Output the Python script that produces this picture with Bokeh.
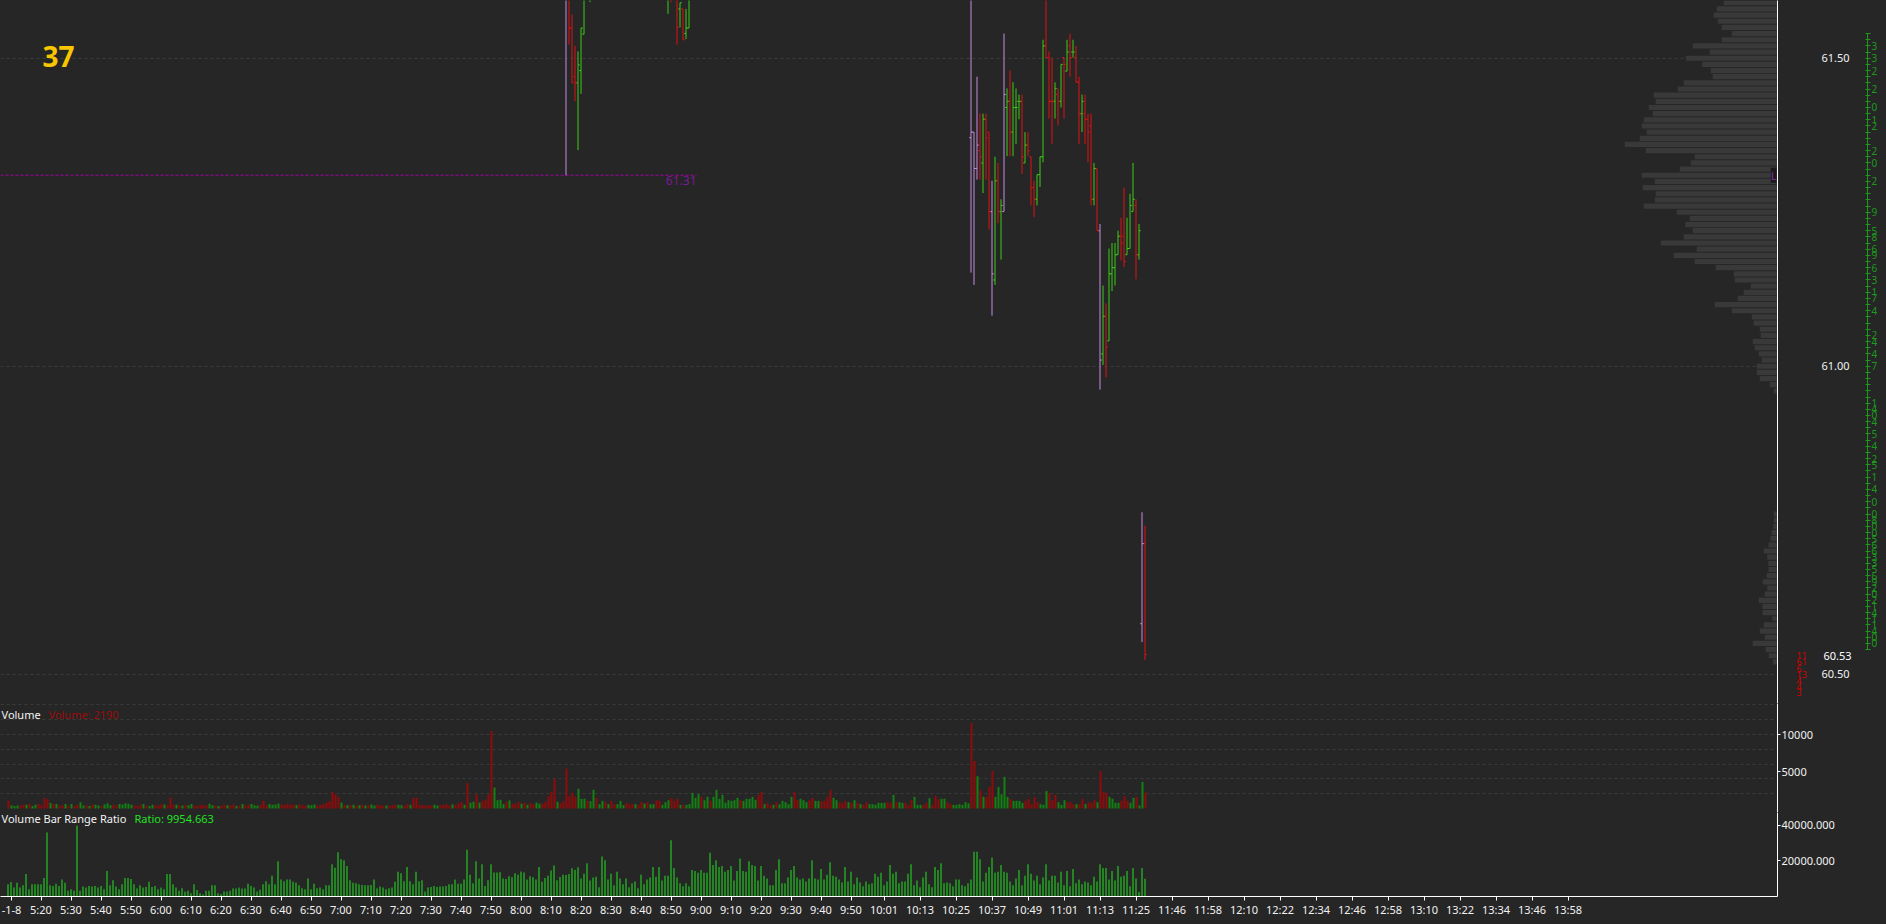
from bokeh.plotting import figure
from bokeh.models import (Range1d, FixedTicker, ColumnDataSource, Label, LinearAxis,
                          PrintfTickFormatter, GlobalInlineStyleSheet, Div)
from bokeh.layouts import column, row
from bokeh.transform import dodge
from bokeh.embed import file_html
from bokeh.resources import INLINE

# ------------------------------------------------------------------ data
# bar index = minutes after 05:00 (one-minute bars)
first_minute = 9

volume = [
    1035, 450, 350, 400, 400, 550, 500, 600, 350, 500,      # 9
    600, 450, 1440, 1260, 750, 600, 600, 400, 450, 600,     # 19
    400, 600, 350, 550, 850, 400, 450, 350, 550, 500,       # 29
    400, 350, 550, 700, 450, 500, 400, 600, 550, 700,       # 39
    650, 500, 400, 350, 500, 600, 400, 350, 500, 450,       # 49
    400, 600, 550, 450, 1440, 550, 500, 450, 400, 500,      # 59
    450, 600, 400, 350, 450, 500, 400, 650, 450, 400,       # 69
    350, 400, 500, 450, 400, 550, 350, 400, 600, 450,       # 79
    500, 600, 450, 400, 500, 1035, 450, 600, 500, 550,      # 89
    650, 550, 500, 650, 550, 500, 450, 550, 450, 400,       # 99
    500, 450, 550, 400, 500, 600, 800, 1000, 2250, 1935,    # 109
    1575, 800, 500, 450, 450, 500, 400, 450, 500, 400,      # 119
    450, 550, 400, 500, 450, 350, 400, 400, 450, 500,       # 129
    500, 450, 400, 600, 500, 1440, 1440, 500, 450, 400,     # 139
    400, 450, 500, 400, 450, 500, 600, 400, 550, 450,       # 149
    700, 900, 500, 3465, 800, 900, 1935, 800, 1000, 1200,   # 159
    1935, 10485, 2835, 1125, 1200, 600, 900, 1100, 600, 700,  # 169
    900, 650, 800, 500, 750, 600, 800, 650, 650, 900,       # 179
    1665, 2250, 4050, 900, 700, 1000, 5400, 1710, 2115, 1575,  # 189
    2655,                                                   # 199
    1305, 1305, 1035, 990, 2520, 1440, 585, 1035, 855, 585,   # 200
    1035, 585, 585, 1035, 450, 765, 585, 585, 585, 450,       # 210
    900, 675, 855, 585, 585, 1125, 1035, 495, 855, 1125,      # 220
    1395, 1035, 1305, 495, 495, 495, 585,                     # 230
    2115, 1440, 1935, 1575, 1125, 1575, 1035, 1575, 2520, 1305,  # 237
    1845, 765, 1125, 1035, 1125, 1440, 1125, 1035, 1305, 1305,   # 247
    1575, 1170, 1845, 2250, 585, 765, 450, 495, 855, 585,        # 257
    1035, 855, 585, 1575, 2250, 1125, 1305, 1125, 855, 1125,     # 267
    1440, 1035, 1035, 945, 1035, 1575, 2475, 1440, 1125, 855,    # 277
    765, 1035, 855, 765, 1125, 765, 585, 495, 855, 585,          # 287
    585, 495, 765, 765, 765, 855, 765, 1845, 855, 855,           # 297
    765, 765, 450, 1125, 1575, 495, 495, 495, 765, 1395,         # 307
    495, 1710, 1260, 1305, 1305, 855, 585, 495, 495, 585,        # 317
    495, 855, 700,                                               # 327
    11565, 6435, 4365, 2475, 1575, 1575, 2925, 5085, 1575, 2925,  # 330
    1935, 4275, 1575, 1305, 1035, 1035, 1035, 765, 1035, 1305,    # 340
    585, 1575, 855, 585, 495, 2385, 2115, 1125, 1845, 855,        # 350
    495, 1125, 855, 855, 585, 585, 585, 1305, 585, 855,           # 360
    765, 1125, 855, 5085, 2250, 2115, 1575, 1305, 765, 765,       # 370
    1035, 1710, 1035, 765, 1440, 1575, 405, 3600, 2190,           # 380
]

volume_dir = (
    "rgggrrgrgg" "rrrrgrgrrg" "rgrrggrgrg" "grgggrrggg" "ggrrrgrggr"
    "rrgrrrgrgr" "ggrrrrrggr" "grrgrrgrgr" "rgggrrrggg" "grrrrrgrrr"
    "gggrrrrrrr" "rgrgrgrgrg" "rggrrrgrrr" "ggrrgrrrrr" "rrggrrrrgr"
    "rrgrggrgrr" "rrggggrgrr" "rgrgrrggrr" "rrrgrrrrrr" "g"
    "ggrggrggrg" "rrgggrrrgr" "rgrggrrggg" "rrrgrgg"
    "gggrggrggg" "ggggggrggg" "ggrrgrrgrg" "ggggrrgggr" "rggrrrrggr"
    "rrgrgrgrrg" "gggggrrgrg" "grrrgggrrg" "rrrggrrggg" "ggg"
    "rrgrgrrrgg" "gggrggggrr" "rrrgggrrrg" "ggrrrgrrgr" "rrgrrrgggg"
    "rrrggrggr"
)

ratio = [
    6840, 8100, 5040, 7740, 5040, 6300, 12600, 4140, 6840, 6840,      # 9
    6840, 6840, 10440, 36000, 6300, 5940, 7200, 5940, 9540, 7740,     # 19
    3240, 4140, 3240, 39780, 3240, 5580, 5040, 5940, 5580, 5940,      # 29
    5040, 5940, 4140, 14400, 6300, 9180, 5580, 4140, 6840, 10440,     # 39
    10440, 9900, 6840, 4500, 6300, 5040, 5400, 8280, 5400, 5940,      # 49
    4140, 5040, 4140, 12600, 12600, 6840, 5040, 3240, 4680, 2700,     # 59
    3240, 1800, 6840, 3600, 1800, 1080, 3240, 3240, 6300, 6300,       # 69
    1800, 1440, 2880, 2880, 3240, 4500, 4500, 5040, 4500, 4500,       # 79
    7200, 5940, 5040, 2880, 3780, 6840, 8640, 6840, 11700, 6840,      # 89
    19800, 9540, 8640, 9540, 9540, 8280, 7740, 6300, 4680, 4140,      # 99
    10080, 4140, 7200, 4680, 5040, 4140, 6300, 6300, 18180, 16200,    # 109
    24840, 20880, 20340, 17100, 9180, 7740, 7380, 6840, 6480, 6300,   # 119
    6300, 6480, 9540, 4500, 5580, 5040, 4140, 4680, 5040, 8280,       # 129
    13860, 13140, 8640, 16560, 8640, 6840, 13860, 8640, 9180, 2880,   # 139
    5040, 5400, 5940, 5400, 5580, 5580, 5940, 6840, 6840, 9540,       # 149
    7200, 7200, 9540, 26280, 12240, 7380, 19800, 10080, 18180, 5940,  # 159
    9180, 18180, 13500, 13500, 13680, 10080, 9900, 11340, 10800, 13140,  # 169
    12240, 14040, 13500, 9540, 11340, 10800, 9540, 16560, 8280, 10440,   # 179
    11700, 14580, 17460, 9180, 10980, 12240, 12060, 12600, 15840, 14940, # 189
    16380,                                                               # 199
    10080, 12780, 18720, 9000, 10620, 11160, 5220, 22500, 20340, 9540,   # 200
    12780, 6300, 13860, 10080, 6840, 10080, 5220, 7380, 8460, 4680,      # 210
    12240, 6840, 9540, 10620, 16560, 11160, 16560, 9000, 11700, 11700,   # 220
    31680, 16020, 10620, 7380, 5760, 7380, 5760, 14940, 14400, 13320,    # 230
    14940, 13320, 13320, 24660, 17640, 20340, 16560, 17100, 13860, 14940,  # 240
    17100, 9000, 14400, 21420, 14400, 13860, 19800, 17640, 17100, 9000,    # 250
    17100, 11700, 10080, 6300, 6300, 14940, 20880, 7380, 7380, 10620,      # 260
    14940, 17100, 10620, 9540, 10080, 8460, 10080, 20340, 10080, 9540,     # 270
    15480, 9540, 12240, 19260, 11700, 11160, 9540, 7920, 16560, 8460,      # 280
    13860, 6840, 10620, 7920, 5760, 8460, 6840, 7380, 12780, 11160,        # 290
    13320, 6300, 8460, 17640, 12780, 13860, 7380, 8460, 8460, 12780,       # 300
    18180, 6300, 9000, 5220, 10620, 13860, 6840, 5220, 16560, 14940,       # 310
    18720, 7380, 7920, 7380, 5760, 9540, 9540, 6300, 5760, 7380,           # 320
    9540, 25200, 25200, 20880, 8460, 13320, 16560, 21960, 13320, 13860,    # 330
    17640, 13860, 13320, 8460, 6300, 10080, 14940, 6300, 11700, 18180,     # 340
    12780, 9000, 11700, 6840, 10620, 18180, 9000, 11700, 11700, 7920,      # 350
    13860, 6300, 14400, 5760, 15480, 7380, 9540, 6840, 8460, 7920,         # 360
    6300, 11160, 8460, 18180, 16020, 16020, 9540, 14400, 9000, 17100,      # 370
    11160, 11700, 14400, 5760, 16020, 10080, 2520, 16020, 9954.663,        # 380
]

# OHLC bars visible inside the price window (others lie above it)
bar_minute = [195, 196, 197, 198, 199, 200, 201, 203,
              229, 230, 232, 233, 234, 235, 236] + list(range(330, 389))
bar_open = [61.65, 61.64, 61.549, 61.470, 61.460, 61.480, 61.539, 61.62,
            61.60, 61.65, 61.64, 61.580, 61.580, 61.540, 61.549,
            61.371, 61.380, 61.321, 61.350, 61.330, 61.401, 61.380, 61.251, 61.140, 61.301,
            61.251, 61.251, 61.420, 61.430, 61.380, 61.420, 61.430, 61.430, 61.330, 61.359,
            61.340, 61.290, 61.271, 61.311, 61.340, 61.520, 61.501, 61.430, 61.430, 61.441,
            61.430, 61.501, 61.479, 61.520, 61.510, 61.501, 61.461, 61.410, 61.410, 61.401,
            61.390, 61.271, 61.321, 61.220, 61.020, 61.081, 61.041, 61.150, 61.160, 61.181,
            61.211, 61.211, 61.181, 61.191, 61.251, 61.261, 61.181, 60.582, 60.712]
bar_high = [61.70, 61.68, 61.571, 61.520, 61.511, 61.549, 61.66, 61.70,
            61.70, 61.68, 61.68, 61.590, 61.580, 61.580, 61.68,
            61.62, 61.380, 61.470, 61.410, 61.410, 61.410, 61.380, 61.301, 61.340, 61.330,
            61.271, 61.540, 61.451, 61.480, 61.461, 61.451, 61.441, 61.441, 61.380, 61.380,
            61.340, 61.301, 61.311, 61.340, 61.530, 61.62, 61.511, 61.501, 61.461, 61.451,
            61.490, 61.501, 61.530, 61.540, 61.530, 61.520, 61.470, 61.441, 61.441, 61.410,
            61.410, 61.330, 61.321, 61.231, 61.131, 61.102, 61.191, 61.200, 61.200, 61.220,
            61.241, 61.290, 61.241, 61.280, 61.330, 61.271, 61.231, 60.763, 60.741]
bar_low = [61.31, 61.522, 61.460, 61.430, 61.351, 61.442, 61.539, 61.591,
           61.572, 61.591, 61.522, 61.550, 61.530, 61.531, 61.549,
           61.152, 61.132, 61.303, 61.303, 61.281, 61.303, 61.222, 61.082, 61.132, 61.232,
           61.173, 61.251, 61.341, 61.341, 61.341, 61.361, 61.401, 61.312, 61.330, 61.341,
           61.261, 61.242, 61.261, 61.291, 61.331, 61.501, 61.402, 61.361, 61.402, 61.391,
           61.420, 61.402, 61.479, 61.470, 61.501, 61.461, 61.361, 61.380, 61.361, 61.331,
           61.261, 61.261, 61.220, 60.962, 61.002, 60.982, 61.041, 61.122, 61.131, 61.181,
           61.172, 61.161, 61.181, 61.191, 61.251, 61.141, 61.173, 60.552, 60.523]
bar_close = [61.62, 61.549, 61.460, 61.460, 61.489, 61.549, 61.62, 61.65,
             61.64, 61.61, 61.55, 61.590, 61.530, 61.549, 61.62,
             61.380, 61.321, 61.359, 61.340, 61.401, 61.371, 61.251, 61.150, 61.301, 61.251,
             61.261, 61.441, 61.430, 61.380, 61.420, 61.420, 61.430, 61.340, 61.359, 61.350,
             61.290, 61.271, 61.311, 61.340, 61.520, 61.501, 61.430, 61.430, 61.451, 61.430,
             61.490, 61.490, 61.510, 61.501, 61.510, 61.461, 61.410, 61.430, 61.401, 61.380,
             61.271, 61.321, 61.220, 61.010, 61.081, 61.031, 61.150, 61.160, 61.181, 61.211,
             61.200, 61.170, 61.191, 61.261, 61.271, 61.181, 61.220, 60.712, 60.532]
bar_kind = ("prrrgggg" "grrgrgg"
            "ppprgrrpgr" "gpgrgggrgr" "rrgggrrrgr" "grgrgrrgrr" "rgrpgrgggg" "rrgggrgpr")

level_price = 61.31          # dashed reference level
level_end_minute = 238.5
last_price = 60.53

# volume profile (price level -> contracts)
profile_top_hi = 61.59
profile_hi = [2150, 2430, 2550, 2390, 2230, 1830, 2230, 3390, 2710, 3670,
              3010, 2670, 2590, 3750, 3990, 4950, 4870, 5150, 4990, 5350,
              5430, 5230, 5510, 6110, 5270, 3310, 3470, 3910, 5430, 4910,
              5390, 4870, 4910, 5350, 4030, 3510, 3690, 3390, 3750, 4670,
              3230, 4150, 3310, 2470, 1750, 1710, 1070, 1350, 1590, 2510,
              1830, 1030, 950, 710, 670, 990, 910, 750, 630, 830,
              830, 710, 310, 150]
profile_top_lo = 60.76
profile_lo = [150, 150, 170, 240, 280, 360, 550, 410, 370, 360,
              430, 590, 410, 510, 750, 600, 600, 210, 550, 710,
              510, 990, 470, 350, 190]

# price ladder on the right edge
ladder_top, ladder_bottom = 61.54, 60.54
ladder_right = [(61.52, "3"), (61.50, "3"), (61.48, "2"), (61.45, "2"), (61.42, "0"),
                (61.40, "1"), (61.39, "2"), (61.35, "2"), (61.33, "0"), (61.30, "2"),
                (61.25, "9"), (61.22, "5"), (61.21, "8"), (61.19, "6"), (61.18, "9"),
                (61.16, "6"), (61.14, "3"), (61.12, "1"), (61.11, "7"), (61.09, "4"),
                (61.05, "2"), (61.04, "4"), (61.02, "4"), (61.00, "7"), (60.94, "1"),
                (60.93, "4"), (60.92, "0"), (60.91, "4"), (60.89, "5"), (60.87, "4"),
                (60.85, "2"), (60.84, "5"), (60.82, "1"), (60.80, "4"), (60.78, "0"),
                (60.76, "0"), (60.75, "8"), (60.74, "0"), (60.73, "0"), (60.72, "5"),
                (60.71, "6"), (60.70, "6"), (60.69, "3"), (60.68, "3"), (60.67, "5"),
                (60.66, "6"), (60.65, "9"), (60.64, "2"), (60.63, "0"), (60.62, "2"),
                (60.61, "1"), (60.60, "4"), (60.59, "1"), (60.58, "1"), (60.57, "4"),
                (60.56, "0"), (60.55, "0")]
# red sell-side counts below the last price
ladder_red = [(60.53, "11"), (60.52, "61"), (60.51, "6"), (60.50, "13"),
              (60.49, "4"), (60.48, "4"), (60.47, "3")]

price_ticks = [60.5, 61.0, 61.5]
time_labels = ["5:20", "5:30", "5:40", "5:50", "6:00", "6:10", "6:20", "6:30", "6:40",
               "6:50", "7:00", "7:10", "7:20", "7:30", "7:40", "7:50", "8:00", "8:10",
               "8:20", "8:30", "8:40", "8:50", "9:00", "9:10", "9:20", "9:30", "9:40",
               "9:50", "10:01", "10:13", "10:25", "10:37", "10:49", "11:01", "11:13", "11:25"]
future_labels = ["11:46", "11:58", "12:10", "12:22", "12:34", "12:46", "12:58",
                 "13:10", "13:22", "13:34", "13:46", "13:58"]
date_label = "-1-8"

# ------------------------------------------------------------------ styling
BG = "#262626"
FONT = "Noto Sans"
GREEN_BAR = "#3acb16"
RED_BAR = "#de1212"
LAV_BAR = "#c68ae4"
VOL_G = "#138013"
VOL_R = "#900a0a"
RATIO_C = "#22e222"
GRID_C = "#3a3a3a"
AXIS_C = "#ffffff"
LABEL_C = "#f2f2f2"
LADDER_C = "#1c9a1c"

W = 1886
FRAME_W = 1777
LADDER_W = 26          # strip on the far right that carries the ladder axis
PRICE_H = 703


def xr(px):   # reference pixel -> minute coordinate
    return (px + 19.5) / 3.0


def yp(px):   # reference pixel -> price coordinate
    return 61.5937 - px / 616.0


X_LO, X_HI = xr(0), xr(FRAME_W)
x_range = Range1d(X_LO, X_HI)


def make_fig(w, h, y_range, with_xaxis=False):
    p = figure(width=w, height=h, x_range=x_range, y_range=y_range,
               output_backend="svg", toolbar_location=None,
               y_axis_location="right",
               x_axis_location="below" if with_xaxis else None,
               min_border_left=0, min_border_right=w - FRAME_W,
               min_border_top=0, min_border_bottom=0,
               background_fill_color=BG, border_fill_color=BG,
               outline_line_color=None)
    p.xgrid.visible = False
    p.ygrid.grid_line_color = GRID_C
    p.ygrid.grid_line_dash = "3 3"
    ax = p.yaxis[0]
    ax.axis_line_color = AXIS_C
    ax.major_tick_line_color = AXIS_C
    ax.minor_tick_line_color = None
    ax.major_label_text_color = LABEL_C
    ax.major_label_text_font = FONT
    ax.major_label_text_font_size = "11px"
    return p


# ------------------------------------------------------------------ price panel
price_range = Range1d(yp(PRICE_H), yp(0))
pp = make_fig(W - LADDER_W, PRICE_H, price_range)
pp.yaxis.ticker = FixedTicker(ticks=price_ticks)
pp.ygrid.ticker = FixedTicker(ticks=price_ticks)
pp.yaxis.formatter = PrintfTickFormatter(format="%.2f")
pp.yaxis.major_tick_out = 0
pp.yaxis.major_tick_in = 0
pp.yaxis.major_label_standoff = 44
pp.yaxis.major_label_text_align = "left"

# last-price marker: a second, line-less axis whose single label is pulled back
# (negative standoff) under the price labels
last_axis = LinearAxis(ticker=FixedTicker(ticks=[last_price]),
                       formatter=PrintfTickFormatter(format="%.2f"),
                       axis_line_color=None, major_tick_line_color=None,
                       minor_tick_line_color=None, major_tick_in=0, major_tick_out=0,
                       major_label_standoff=-29, major_label_text_color="#ffffff",
                       major_label_text_align="left",
                       major_label_text_font=FONT, major_label_text_font_size="11px")
pp.add_layout(last_axis, "right")

# red counts column left of the price labels
red_levels = [a for a, b in ladder_red]
red_axis = LinearAxis(ticker=FixedTicker(ticks=red_levels),
                      major_label_overrides={a: b for a, b in ladder_red},
                      axis_line_color=None, major_tick_line_color=None,
                      minor_tick_line_color=None, major_tick_in=0, major_tick_out=0,
                      major_label_standoff=-58, major_label_text_color="#d40000",
                      major_label_text_align="right",
                      major_label_text_font=FONT, major_label_text_font_size="9px")
pp.add_layout(red_axis, "right")

# volume profile on its own horizontal scale (right edge = 0)
pp.extra_x_ranges = {"vp": Range1d(FRAME_W * 40, 0)}
hi_levels = [round(profile_top_hi - 0.01 * i, 2) for i in range(len(profile_hi))]
lo_levels = [round(profile_top_lo - 0.01 * i, 2) for i in range(len(profile_lo))]
pp.hbar(y=hi_levels + lo_levels, left=0, right=profile_hi + profile_lo,
        height=0.0084, x_range_name="vp", fill_color="#393939", line_color=None)

# dashed level line
pp.segment(x0=[X_LO - 5], y0=[level_price], x1=[level_end_minute], y1=[level_price],
           line_color="#a000a0", line_width=1, line_dash="3 2")

# OHLC bars
kind_color = {"g": GREEN_BAR, "r": RED_BAR, "p": LAV_BAR}
src = ColumnDataSource(dict(
    x=bar_minute, o=bar_open, h=bar_high, l=bar_low, c=bar_close,
    xo=[m - 0.6 for m in bar_minute], xc=[m + 0.6 for m in bar_minute],
    color=[kind_color[k] for k in bar_kind]))
pp.segment(x0="x", y0="l", x1="x", y1="h", line_color="color", line_width=1, source=src)
pp.segment(x0="xo", y0="o", x1="x", y1="o", line_color="color", line_width=1, source=src)
pp.segment(x0="x", y0="c", x1="xc", y1="c", line_color="color", line_width=1, source=src)

pp.add_layout(Label(x=xr(42), y=yp(56), text="37", text_font=FONT,
                    text_font_size="28px", text_font_style="bold",
                    text_color="#f7c600", text_baseline="alphabetic"))
pp.add_layout(Label(x=level_end_minute, y=level_price, text=f"{level_price:.2f}",
                    text_font=FONT, text_font_size="12px", text_color="#7a1a96",
                    text_align="right", text_baseline="top", y_offset=-1))
pp.add_layout(Label(x=X_HI, y=level_price, text="L", text_font=FONT,
                    text_font_size="11px", text_color="#8a2aa8", text_align="right",
                    text_baseline="middle", background_fill_color="#1b1b1b", x_offset=-1))

# ladder strip: a narrow figure whose right axis is the green price ladder
lad = figure(width=LADDER_W, height=PRICE_H, x_range=Range1d(0, 1), y_range=price_range,
             output_backend="svg", toolbar_location=None, y_axis_location="right",
             x_axis_location=None, min_border_left=0, min_border_right=LADDER_W - 7,
             min_border_top=0, min_border_bottom=0, background_fill_color=BG,
             border_fill_color=BG, outline_line_color=None)
lad.grid.visible = False
n_lad = int(round((ladder_top - ladder_bottom) / 0.01)) + 1
lad_levels = [round(ladder_top - 0.01 * i, 2) for i in range(n_lad)]
lad_text = {lv: "" for lv in lad_levels}
for lv, t in ladder_right:
    lad_text[round(lv, 2)] = t
la = lad.yaxis[0]
la.bounds = (ladder_bottom, ladder_top)
la.ticker = FixedTicker(ticks=lad_levels)
la.major_label_overrides = lad_text
la.axis_line_color = LADDER_C
la.major_tick_line_color = LADDER_C
la.minor_tick_line_color = None
la.major_tick_in = 2
la.major_tick_out = 3
la.major_label_standoff = 1
la.major_label_text_color = LADDER_C
la.major_label_text_font = FONT
la.major_label_text_font_size = "10px"

# ------------------------------------------------------------------ volume panel
minutes = list(range(first_minute, first_minute + len(volume)))
VPX = 5000 / 37.0
vp = make_fig(W, 109, Range1d(-4 * VPX, 105 * VPX))
vp.yaxis.ticker = FixedTicker(ticks=[5000, 10000])
vp.ygrid.ticker = FixedTicker(ticks=[2000, 4000, 6000, 8000, 10000, 12000, 14000])
vp.yaxis.major_tick_out = 3
vp.yaxis.major_tick_in = 0
vp.yaxis.major_label_standoff = 1
vsrc = ColumnDataSource(dict(x=minutes, top=volume,
                             color=[VOL_G if d == "g" else VOL_R for d in volume_dir]))
vp.vbar(x=dodge("x", 1 / 6, range=x_range), top="top", bottom=0, width=2 / 3,
        fill_color="color", line_color=None, source=vsrc)
vp.add_layout(Label(x=X_LO, y=(808 - 714) * VPX, x_offset=1, text="Volume", text_font=FONT,
                    text_font_size="11px", text_color=LABEL_C, text_baseline="middle"))
vp.add_layout(Label(x=X_LO, y=(808 - 714) * VPX, x_offset=48,
                    text=f"Volume: {volume[-1]}", text_font=FONT,
                    text_font_size="11px", text_color="#9a0d0d", text_baseline="middle"))

# ------------------------------------------------------------------ ratio panel
RPX = 40000 / 72.0
rp = make_fig(W, 107, Range1d(0, 85 * RPX), with_xaxis=True)
rp.ygrid.visible = False
rp.yaxis.ticker = FixedTicker(ticks=[20000, 40000])
rp.yaxis.formatter = PrintfTickFormatter(format="%.3f")
rp.yaxis.major_tick_out = 3
rp.yaxis.major_tick_in = 0
rp.yaxis.major_label_standoff = 1
rp.vbar(x=minutes, top=ratio, bottom=0, width=1 / 3, fill_color=RATIO_C, line_color=None)

tick_pos = []
for lab in time_labels:
    hh, mm = lab.split(":")
    tick_pos.append(int(hh) * 60 + int(mm) - 300)
last_tick = tick_pos[-1]
fut_pos = [last_tick + 12 * (i + 1) for i in range(len(future_labels))]
date_pos = round(xr(11), 3)
all_pos = [date_pos] + tick_pos + fut_pos
all_lab = [date_label] + time_labels + future_labels
xa = rp.xaxis[0]
xa.ticker = FixedTicker(ticks=all_pos)
xa.major_label_overrides = {p: l for p, l in zip(all_pos, all_lab)}
xa.axis_line_color = AXIS_C
xa.major_tick_line_color = AXIS_C
xa.minor_tick_line_color = None
xa.major_tick_out = 4
xa.major_tick_in = 0
xa.major_label_standoff = 1
xa.major_label_text_color = LABEL_C
xa.major_label_text_font = FONT
xa.major_label_text_font_size = "11px"

rp.add_layout(Label(x=X_LO, y=(897 - 818) * RPX, x_offset=1, text="Volume Bar Range Ratio",
                    text_font=FONT, text_font_size="11px", text_color=LABEL_C,
                    text_baseline="middle"))
rp.add_layout(Label(x=X_LO, y=(897 - 818) * RPX, x_offset=134,
                    text=f"Ratio: {ratio[-1]:.3f}", text_font=FONT,
                    text_font_size="11px", text_color="#22e022", text_baseline="middle"))

strip = Div(text="", width=W, height=4, styles={"background-color": "#f0f0f0"})

layout = column(row(pp, lad, spacing=0), vp, rp, strip, spacing=0,
                stylesheets=[GlobalInlineStyleSheet(css="html, body { background-color: #262626; }")])

open("out.html", "w").write(file_html(layout, INLINE))
